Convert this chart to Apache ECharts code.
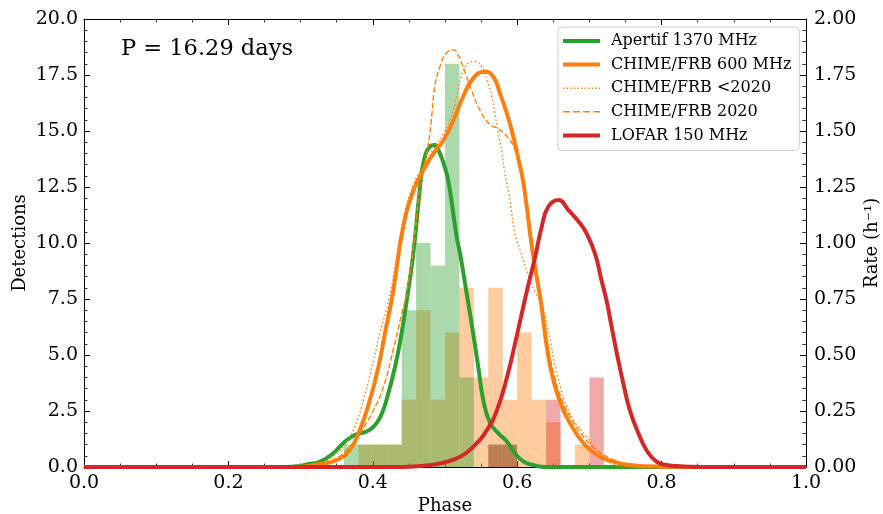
<!DOCTYPE html>
<html><head><meta charset="utf-8">
<script src="https://cdn.jsdelivr.net/npm/echarts/dist/echarts.min.js"></script>
<style>html,body{margin:0;padding:0;background:#fff}#c{width:883px;height:514px}</style>
</head><body><div id="c"></div>
<script>
// ---- data ----
const BIN_W = 0.02;
const binStarts = [0.36,0.38,0.40,0.42,0.44,0.46,0.48,0.50,0.52,0.54,0.56,0.58,0.60,0.62,0.64,0.66,0.68,0.70];
const apertifCounts = [1,1,1,1,7,10,9,18,4,0,1,1,0,0,0,0,0,0];
const chimeCounts   = [0,1,1,1,3,7,3,6,8,4,8,3,6,3,2,0,1,0];
const lofarCounts   = [0,0,0,0,0,0,0,0,0,0,1,1,0,0,3,0,0,4];

const apertifRate = [[0,0],[0.28,0],[0.30,0.005],[0.31,0.012],[0.327,0.024],[0.345,0.061],[0.359,0.106],[0.375,0.143],[0.391,0.158],[0.401,0.18],[0.41,0.22],[0.419,0.30],[0.431,0.45],[0.44,0.60],[0.447,0.745],[0.456,0.95],[0.465,1.237],[0.470,1.356],[0.479,1.43],[0.486,1.437],[0.491,1.415],[0.498,1.356],[0.505,1.27],[0.516,1.03],[0.521,0.95],[0.530,0.775],[0.539,0.597],[0.546,0.448],[0.553,0.30],[0.562,0.20],[0.574,0.15],[0.586,0.113],[0.597,0.061],[0.609,0.024],[0.622,0.009],[0.64,0],[1,0]];
const chime600Rate = [[0,0],[0.29,0],[0.327,0.013],[0.35,0.031],[0.368,0.076],[0.382,0.165],[0.396,0.30],[0.408,0.45],[0.417,0.60],[0.428,0.78],[0.442,1.07],[0.457,1.24],[0.47,1.326],[0.484,1.40],[0.498,1.46],[0.512,1.55],[0.525,1.653],[0.539,1.735],[0.555,1.765],[0.567,1.742],[0.576,1.67],[0.586,1.575],[0.595,1.47],[0.602,1.37],[0.609,1.26],[0.62,0.99],[0.627,0.85],[0.634,0.71],[0.641,0.537],[0.65,0.388],[0.662,0.269],[0.676,0.18],[0.692,0.106],[0.71,0.054],[0.733,0.024],[0.756,0.009],[0.779,0.003],[0.83,0],[1,0]];
const chimePre2020Rate = [[0,0],[0.30,0],[0.327,0.015],[0.345,0.046],[0.359,0.09],[0.375,0.18],[0.387,0.30],[0.399,0.45],[0.41,0.60],[0.422,0.745],[0.431,0.90],[0.442,1.10],[0.456,1.26],[0.47,1.34],[0.484,1.42],[0.498,1.49],[0.507,1.55],[0.514,1.625],[0.521,1.73],[0.53,1.795],[0.542,1.81],[0.551,1.787],[0.558,1.73],[0.565,1.653],[0.569,1.58],[0.574,1.49],[0.579,1.40],[0.583,1.31],[0.59,1.19],[0.597,1.04],[0.606,0.95],[0.615,0.86],[0.625,0.78],[0.634,0.72],[0.643,0.61],[0.655,0.42],[0.673,0.24],[0.696,0.135],[0.715,0.061],[0.728,0.02],[0.75,0.003],[0.78,0],[1,0]];
const chime2020Rate = [[0,0],[0.30,0],[0.325,0.01],[0.345,0.03],[0.368,0.09],[0.382,0.15],[0.401,0.254],[0.415,0.36],[0.428,0.52],[0.438,0.656],[0.447,0.78],[0.456,0.97],[0.465,1.24],[0.477,1.445],[0.482,1.58],[0.486,1.70],[0.493,1.787],[0.502,1.847],[0.512,1.862],[0.518,1.84],[0.525,1.787],[0.537,1.68],[0.549,1.59],[0.562,1.53],[0.574,1.51],[0.586,1.475],[0.595,1.43],[0.604,1.33],[0.613,1.15],[0.62,1.01],[0.627,0.87],[0.634,0.74],[0.641,0.57],[0.65,0.425],[0.662,0.30],[0.676,0.21],[0.692,0.135],[0.71,0.075],[0.733,0.033],[0.756,0.011],[0.80,0],[1,0]];
const lofarRate = [[0,0],[0.44,0],[0.47,0.006],[0.493,0.016],[0.521,0.046],[0.539,0.09],[0.558,0.165],[0.572,0.254],[0.586,0.403],[0.599,0.58],[0.613,0.78],[0.625,0.94],[0.634,1.073],[0.643,1.162],[0.657,1.192],[0.671,1.147],[0.687,1.088],[0.696,1.043],[0.708,0.95],[0.717,0.83],[0.724,0.74],[0.729,0.656],[0.738,0.507],[0.747,0.373],[0.756,0.254],[0.768,0.15],[0.779,0.076],[0.793,0.024],[0.807,0.009],[0.826,0.003],[0.85,0],[1,0]];

const seriesNames = ['Apertif 1370 MHz','CHIME/FRB 600 MHz','CHIME/FRB <2020','CHIME/FRB 2020','LOFAR 150 MHz'];
const periodText = 'P = 16.29 days';
const xName = 'Phase', yLeftName = 'Detections', yRightName = 'Rate (h\u207B\u00B9)';

// ---- styles ----
const GREEN = '#2ca02c', ORANGE = '#ff7f0e', RED = '#d62728';
const FONT = 'DejaVu Serif';
const DOT = [1.5, 2.5], DASH = [5.5, 2.5];

function hist(name, counts, color, z) {
  return {
    type: 'custom', name: name, xAxisIndex: 0, yAxisIndex: 0, z: z, silent: true,
    data: binStarts.map((b, i) => [b, counts[i]]),
    renderItem: function (params, api) {
      const x0 = api.value(0), h = api.value(1);
      if (!h) return null;
      const p0 = api.coord([x0, h]);
      const p1 = api.coord([x0 + BIN_W, 0]);
      return { type: 'rect', shape: { x: p0[0], y: p0[1], width: p1[0] - p0[0], height: p1[1] - p0[1] },
               style: { fill: color, opacity: 0.4 } };
    }
  };
}
function line(name, data, color, width, type, z) {
  return { type: 'line', name: name, data: data, xAxisIndex: 0, yAxisIndex: 1, z: z,
           symbol: 'none', showSymbol: false, smooth: 0.5, silent: true,
           lineStyle: { color: color, width: width, type: type }, itemStyle: { color: color } };
}
function iconPath(total, dash, gap, h) {
  let s = '';
  for (let x = 0; x < total - 0.01; x += dash + gap) {
    const w = Math.min(dash, total - x);
    s += 'M' + x + ',0h' + w + 'v' + h + 'h' + (-w) + 'z';
  }
  return 'path://' + s;
}
const solidIcon = iconPath(37, 37, 0, 4);
const dotIcon = iconPath(37, 1.4, 2.2, 1.4);
const dashIcon = iconPath(37, 6.5, 3.2, 1.4);

const tickStyle = { inside: true, length: 6, lineStyle: { color: '#000', width: 1 } };
const minorStyle = { show: true, length: 3.5, lineStyle: { color: '#000', width: 0.8 } };
const axisLine = { show: true, onZero: false, lineStyle: { color: '#000', width: 1 } };
const labelBase = { color: '#000', fontFamily: FONT, fontSize: 19 };
const nameStyle = { fontFamily: FONT, fontSize: 18, color: '#000' };

const chart = echarts.init(document.getElementById('c'), null, { renderer: 'canvas' });
chart.setOption({
  animation: false,
  backgroundColor: '#fff',
  grid: { left: 84, right: 77, top: 19, bottom: 47, containLabel: false, outerBoundsMode: 'none' },
  title: { text: periodText, left: 121, top: 38, padding: 0,
           textStyle: { fontFamily: FONT, fontSize: 22.5, fontWeight: 'normal', color: '#000' } },
  legend: {
    orient: 'vertical', left: 558, top: 27, padding: [6, 8, 7, 5],
    itemWidth: 37, itemHeight: 14, itemGap: 7.6, symbolKeepAspect: true,
    borderColor: '#cccccc', borderWidth: 1, borderRadius: 4, backgroundColor: 'rgba(255,255,255,0.8)',
    textStyle: { fontFamily: FONT, fontSize: 16, color: '#000', padding: [0, 0, 0, 6] },
    selectedMode: false,
    data: [
      { name: seriesNames[0], icon: solidIcon },
      { name: seriesNames[1], icon: solidIcon },
      { name: seriesNames[2], icon: dotIcon },
      { name: seriesNames[3], icon: dashIcon },
      { name: seriesNames[4], icon: solidIcon }
    ]
  },
  xAxis: [
    { type: 'value', min: 0, max: 1, interval: 0.2, position: 'bottom',
      name: xName, nameLocation: 'middle', nameGap: 30, nameMoveOverlap: false, nameTextStyle: nameStyle,
      axisLine: axisLine, axisTick: tickStyle, minorTick: Object.assign({ splitNumber: 4 }, minorStyle),
      axisLabel: Object.assign({ margin: 7, formatter: v => v.toFixed(1) }, labelBase),
      splitLine: { show: false } },
    { type: 'value', min: 0, max: 1, interval: 0.2, position: 'top',
      axisLine: axisLine, axisTick: tickStyle, minorTick: Object.assign({ splitNumber: 4 }, minorStyle),
      axisLabel: { show: false }, splitLine: { show: false } }
  ],
  yAxis: [
    { type: 'value', min: 0, max: 20, interval: 2.5, position: 'left',
      name: yLeftName, nameLocation: 'middle', nameGap: 55, nameRotate: 90, nameMoveOverlap: false, nameTextStyle: nameStyle,
      axisLine: axisLine, axisTick: tickStyle, minorTick: Object.assign({ splitNumber: 5 }, minorStyle),
      axisLabel: Object.assign({ margin: 6, formatter: v => v.toFixed(1) }, labelBase),
      splitLine: { show: false } },
    { type: 'value', min: 0, max: 2, interval: 0.25, position: 'right',
      name: yRightName, nameLocation: 'middle', nameGap: 57, nameRotate: 90, nameMoveOverlap: false, nameTextStyle: nameStyle,
      axisLine: axisLine, axisTick: tickStyle, minorTick: Object.assign({ splitNumber: 5 }, minorStyle),
      axisLabel: Object.assign({ margin: 8, formatter: v => v.toFixed(2) }, labelBase),
      splitLine: { show: false } }
  ],
  series: [
    hist('hist CHIME', chimeCounts, ORANGE, 1),
    hist('hist Apertif', apertifCounts, GREEN, 2),
    hist('hist LOFAR', lofarCounts, RED, 3),
    line(seriesNames[0], apertifRate, GREEN, 4, 'solid', 4),
    line(seriesNames[1], chime600Rate, ORANGE, 4, 'solid', 5),
    line(seriesNames[2], chimePre2020Rate, ORANGE, 1.4, DOT, 6),
    line(seriesNames[3], chime2020Rate, ORANGE, 1.4, DASH, 7),
    line(seriesNames[4], lofarRate, RED, 4, 'solid', 8)
  ]
});
</script></body></html>
